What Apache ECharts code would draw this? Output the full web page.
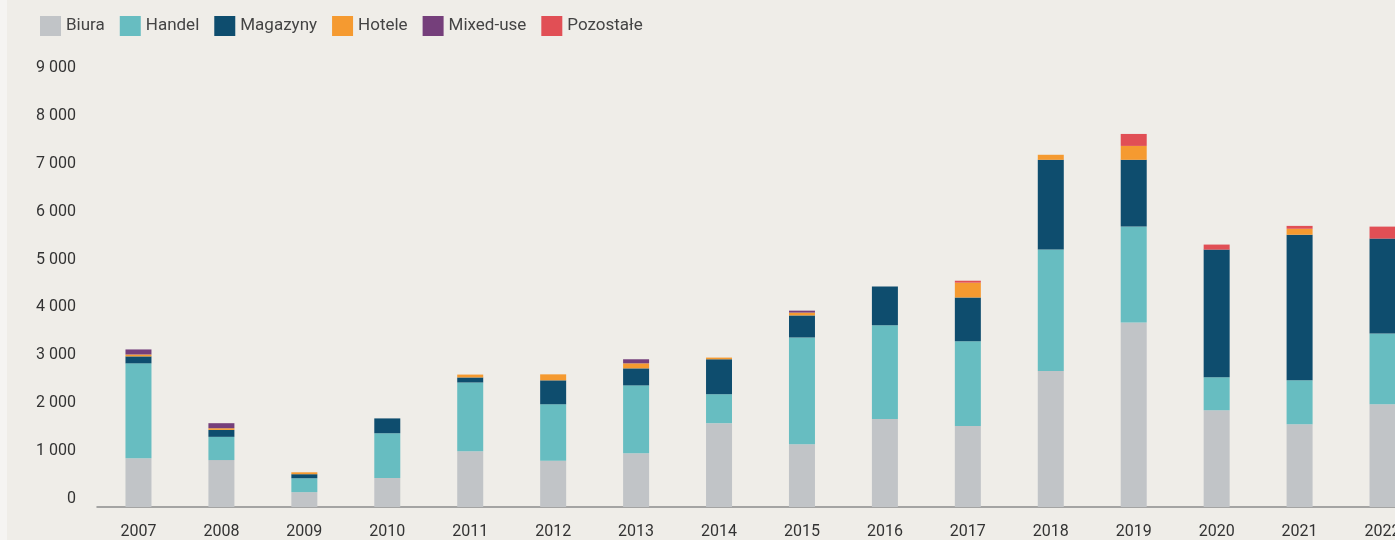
<!DOCTYPE html>
<html>
<head>
<meta charset="utf-8">
<script src="https://cdn.jsdelivr.net/npm/echarts@6/dist/echarts.min.js"></script>
<style>
html, body { margin: 0; padding: 0; background: #efede8; overflow: hidden; }
#chart { width: 1440px; height: 540px; border-left: 7px solid #f5f4f2; box-sizing: border-box; }
</style>
</head>
<body>
<div id="chart"></div>
<script>
// lata
var years = ['2007', '2008', '2009', '2010', '2011', '2012', '2013', '2014', '2015', '2016', '2017', '2018', '2019', '2020', '2021', '2022']
// wolumen transakcji wg sektora (mln EUR)
var biura     = [1020, 980, 310, 605, 1165, 965, 1125, 1750, 1310, 1835, 1690, 2840, 3855, 2020, 1730, 2145]
var handel    = [1980, 485, 290, 935, 1435, 1180, 1415, 605, 2230, 1960, 1770, 2535, 2000, 690, 915, 1480]
var magazyny  = [145, 145, 85, 310, 105, 500, 355, 730, 460, 810, 915, 1875, 1395, 2665, 3040, 1980]
var hotele    = [40, 35, 40, 0, 60, 125, 105, 35, 60, 0, 310, 105, 290, 0, 125, 0]
var mixedUse  = [105, 105, 0, 0, 0, 0, 85, 0, 40, 0, 0, 0, 0, 0, 0, 0]
var pozostale = [0, 0, 0, 0, 0, 0, 0, 0, 0, 0, 40, 0, 250, 105, 60, 250]

var names = ['Biura', 'Handel', 'Magazyny', 'Hotele', 'Mixed-use', 'Pozostałe']
var colors = ['#c1c4c7', '#67bdc1', '#0e4d6e', '#f59a30', '#753f7b', '#e14f55']
var values = [biura, handel, magazyny, hotele, mixedUse, pozostale]

var chart = echarts.init(document.getElementById('chart'))

var series = []
values.map(function (item, index) {
	series.push({
		name: names[index],
		type: 'bar',
		stack: 'total',
		barWidth: 26,
		itemStyle: { color: colors[index] },
		data: item,
	})
})

var options = {
	animation: false,
	color: colors,
	textStyle: { fontFamily: 'Roboto' },
	legend: {
		left: 28,
		top: 11,
		itemWidth: 21,
		itemHeight: 20,
		itemGap: 15,
		icon: 'rect',
		textStyle: {
			fontSize: 17,
			color: '#444',
			padding: [4, 0, 0, 0],
		},
		data: names,
	},
	// wykres szerszy niz okno - ostatni slupek (2022) jest uciety jak w oryginale
	grid: {
		left: 90,
		right: 16,
		top: 76,
		bottom: 32,
	},
	xAxis: {
		type: 'category',
		data: years,
		axisLine: { lineStyle: { color: '#8c8c8c', width: 1.5 } },
		axisTick: { show: false },
		axisLabel: { fontSize: 16, color: '#333', margin: 17 },
	},
	yAxis: {
		type: 'value',
		min: 0,
		max: 9000,
		interval: 1000,
		axisLine: { show: false },
		axisTick: { show: false },
		splitLine: { show: false },
		axisLabel: {
			fontSize: 16,
			color: '#333',
			margin: 21,
			verticalAlign: 'bottom',
			lineHeight: 16,
			formatter: function (v) {
				return v >= 1000 ? Math.floor(v / 1000) + ' 000' : String(v)
			},
		},
	},
	series: series,
}
chart.setOption(options)
</script>
</body>
</html>
